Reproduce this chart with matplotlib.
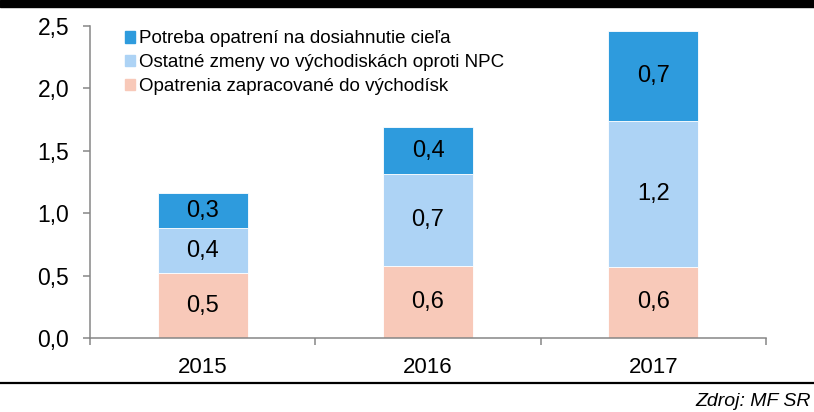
import matplotlib.pyplot as plt
from matplotlib.patches import Rectangle
import numpy as np

# data
roky = ['2015', '2016', '2017']
opatrenia = [0.52, 0.58, 0.57]          # Opatrenia zapracované do východísk
ostatne = [0.36, 0.73, 1.17]            # Ostatné zmeny vo východiskách oproti NPC
potreba = [0.28, 0.38, 0.72]            # Potreba opatrení na dosiahnutie cieľa
popisy_opatrenia = ['0,5', '0,6', '0,6']
popisy_ostatne = ['0,4', '0,7', '1,2']
popisy_potreba = ['0,3', '0,4', '0,7']
yticks = [0.0, 0.5, 1.0, 1.5, 2.0, 2.5]

nazvy = ['Potreba opatrení na dosiahnutie cieľa',
         'Ostatné zmeny vo východiskách oproti NPC',
         'Opatrenia zapracované do východísk']
farby = ['#2E9BDD', '#ADD3F5', '#F8C9B9']

plt.rcParams['font.family'] = ['Liberation Sans', 'DejaVu Sans']

fig = plt.figure(figsize=(8.14, 4.12), dpi=100)
ax = fig.add_axes([0.1106, 0.1796, 0.8304, 0.7574])

x = np.arange(len(roky))
w = 0.4
spodok = np.zeros(3)
for hodnoty, popisy, farba in [(opatrenia, popisy_opatrenia, farby[2]),
                               (ostatne, popisy_ostatne, farby[1]),
                               (potreba, popisy_potreba, farby[0])]:
    ax.bar(x, hodnoty, w, bottom=spodok, color=farba, edgecolor='white', linewidth=0.6)
    for i in range(3):
        ax.text(x[i], spodok[i] + hodnoty[i] / 2, popisy[i], ha='center', va='center',
                fontsize=17, color='black')
    spodok += np.array(hodnoty)

ax.set_xlim(-0.5, 2.5)
ax.set_ylim(0, 2.5)
ax.set_yticks(yticks)
ax.set_yticklabels([('%.1f' % v).replace('.', ',') for v in yticks], fontsize=16.5)
ax.set_xticks(x)
ax.set_xticklabels(roky, fontsize=16)
ax.set_xticks([-0.5, 0.5, 1.5, 2.5], minor=True)
ax.tick_params(axis='x', which='major', length=0, pad=14)
ax.tick_params(axis='x', which='minor', length=5, width=1.1, color='#868686', direction='out')
ax.tick_params(axis='y', length=5, width=1.1, color='#868686', direction='out', pad=10)

for s in ['top', 'right']:
    ax.spines[s].set_visible(False)
for s in ['left', 'bottom']:
    ax.spines[s].set_color('#868686')
    ax.spines[s].set_linewidth(1.1)

handles = [Rectangle((0, 0), 1, 1, color=c) for c in farby]
fig.legend(handles, nazvy, loc='upper left', bbox_to_anchor=(0.153, 0.926), frameon=False,
           fontsize=13.5, handlelength=0.55, handleheight=0.55, handletextpad=0.2,
           labelspacing=0.36, borderaxespad=0, borderpad=0)

# cierny pas hore a ciara dole
fig.patches.append(Rectangle((0, 1 - 7 / 412), 1, 7 / 412, transform=fig.transFigure,
                             color='black', zorder=5))
fig.add_artist(plt.Line2D([0, 1], [1 - 383 / 412, 1 - 383 / 412], color='black', linewidth=1.6))
fig.text(0.996, 1 - 402 / 412, 'Zdroj: MF SR', ha='right', va='center', fontsize=14,
         style='italic')

fig.savefig('out.png', dpi=100)
